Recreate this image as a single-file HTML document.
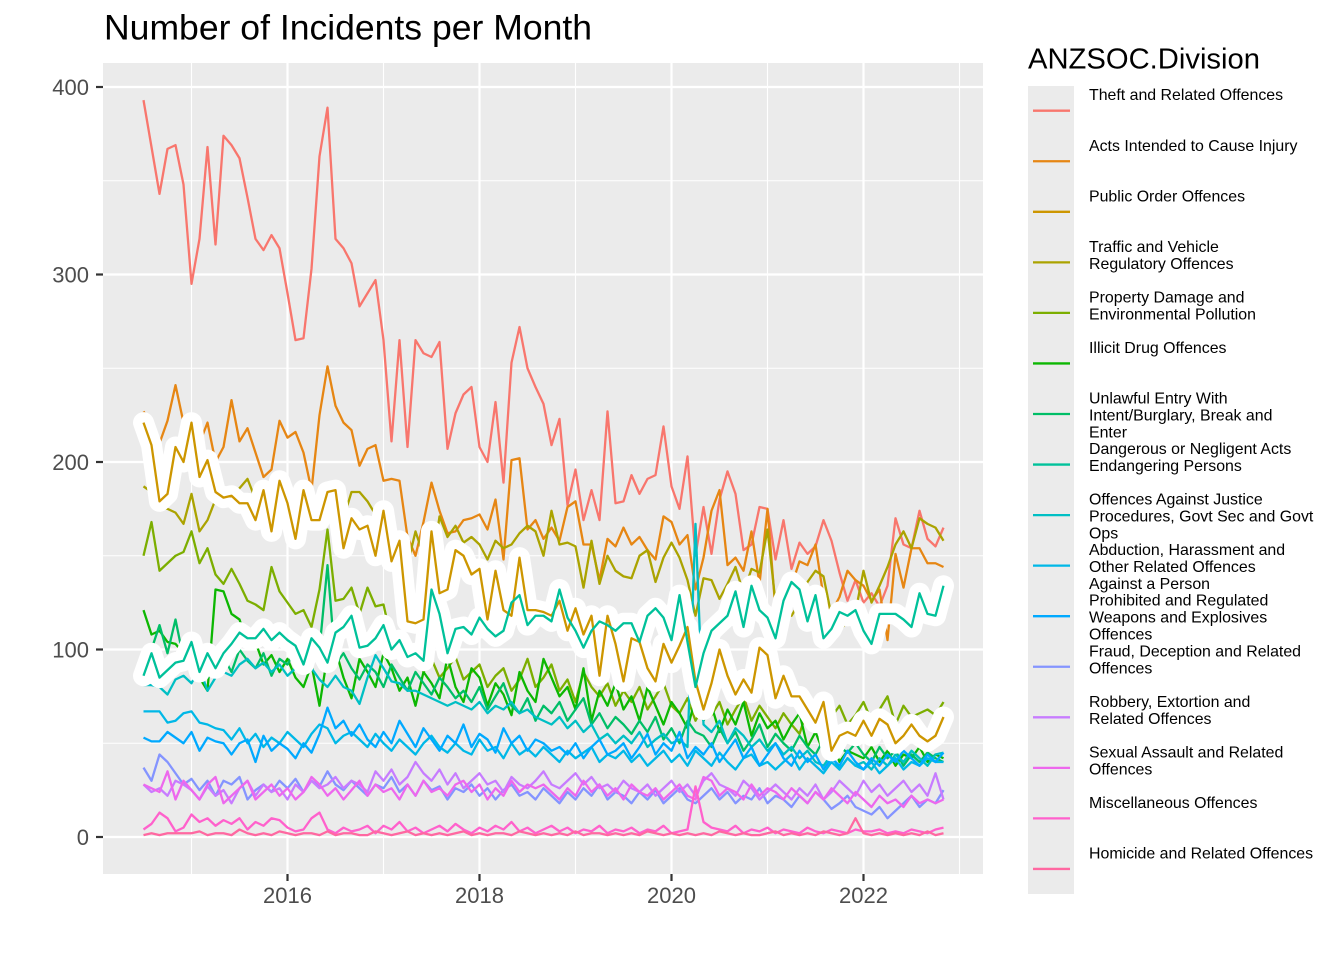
<!DOCTYPE html>
<html>
<head>
<meta charset="utf-8">
<style>
html,body{margin:0;padding:0;background:#ffffff;}
svg{display:block;}
text{font-family:"Liberation Sans", Arial, sans-serif;}
</style>
</head>
<body>
<svg width="1344" height="960" viewBox="0 0 1344 960" xmlns="http://www.w3.org/2000/svg">
<rect x="0" y="0" width="1344" height="960" fill="#ffffff"/>

<text x="104" y="39.5" font-size="35" fill="#000000" textLength="488" lengthAdjust="spacingAndGlyphs">Number of Incidents per Month</text>

<rect x="103" y="63" width="880" height="811" fill="#EBEBEB"/>

<g stroke="#ffffff" stroke-width="1.1" fill="none">
<line x1="103" x2="983" y1="743.25" y2="743.25"/>
<line x1="103" x2="983" y1="555.75" y2="555.75"/>
<line x1="103" x2="983" y1="368.25" y2="368.25"/>
<line x1="103" x2="983" y1="180.75" y2="180.75"/>
<line y1="63" y2="874" x1="191.5" x2="191.5"/>
<line y1="63" y2="874" x1="383.5" x2="383.5"/>
<line y1="63" y2="874" x1="575.5" x2="575.5"/>
<line y1="63" y2="874" x1="767.5" x2="767.5"/>
<line y1="63" y2="874" x1="959.5" x2="959.5"/>
</g>
<g stroke="#ffffff" stroke-width="2.2" fill="none">
<line x1="103" x2="983" y1="837" y2="837"/>
<line x1="103" x2="983" y1="649.5" y2="649.5"/>
<line x1="103" x2="983" y1="462" y2="462"/>
<line x1="103" x2="983" y1="274.5" y2="274.5"/>
<line x1="103" x2="983" y1="87" y2="87"/>
<line y1="63" y2="874" x1="287.5" x2="287.5"/>
<line y1="63" y2="874" x1="479.5" x2="479.5"/>
<line y1="63" y2="874" x1="671.5" x2="671.5"/>
<line y1="63" y2="874" x1="863.5" x2="863.5"/>
</g>

<g transform="translate(143.5,837) scale(8,-1.875)" fill="none" stroke-linejoin="round">
<polyline vector-effect="non-scaling-stroke" stroke="#F8766D" stroke-width="2.3" points="0,393 1,368 2,343 3,367 4,369 5,348 6,295 7,319 8,368 9,316 10,374 11,369 12,362 13,341 14,319 15,313 16,321 17,314 18,290 19,265 20,266 21,303 22,363 23,389 24,319 25,314 26,306 27,283 28,290 29,297 30,265 31,211 32,265 33,208 34,265 35,258 36,256 37,264 38,207 39,226 40,236 41,240 42,208 43,200 44,232 45,189 46,253 47,272 48,250 49,240 50,231 51,209 52,223 53,177 54,196 55,169 56,185 57,169 58,227 59,178 60,179 61,193 62,183 63,191 64,193 65,219 66,187 67,175 68,203 69,150 70,176 71,151 72,180 73,195 74,183 75,153 76,156 77,176 78,175 79,148 80,169 81,143 82,157 83,151 84,155 85,169 86,158 87,141 88,126 89,137 90,125 91,130 92,123 93,134 94,170 95,156 96,154 97,174 98,159 99,155 100,165"/>
<polyline vector-effect="non-scaling-stroke" stroke="#E68613" stroke-width="2.3" points="0,227 1,220 2,210 3,222 4,241 5,221 6,200 7,210 8,221 9,200 10,208 11,233 12,211 13,218 14,205 15,192 16,196 17,222 18,213 19,216 20,205 21,185 22,225 23,251 24,230 25,221 26,217 27,198 28,207 29,209 30,190 31,191 32,190 33,160 34,150 35,168 36,189 37,174 38,162 39,163 40,169 41,170 42,172 43,164 44,180 45,148 46,201 47,202 48,164 49,169 50,159 51,165 52,158 53,176 54,179 55,156 56,156 57,137 58,159 59,155 60,165 61,156 62,160 63,153 64,148 65,171 66,168 67,156 68,161 69,132 70,149 71,174 72,185 73,145 74,149 75,142 76,163 77,135 78,175 79,121 80,130 81,134 82,147 83,145 84,156 85,128 86,120 87,128 88,142 89,137 90,134 91,126 92,132 93,105 94,151 95,133 96,154 97,154 98,146 99,146 100,144"/>
<polyline vector-effect="non-scaling-stroke" stroke="#ABA300" stroke-width="2.3" points="0,187 1,184 2,176 3,175 4,173 5,167 6,183 7,163 8,169 9,180 10,185 11,182 12,186 13,191 14,180 15,175 16,170 17,178 18,172 19,168 20,176 21,172 22,166 23,174 24,178 25,170 26,184 27,184 28,179 29,172 30,165 31,150 32,160 33,145 34,163 35,150 36,142 37,171 38,160 39,166 40,157 41,160 42,156 43,148 44,158 45,154 46,156 47,162 48,166 49,163 50,150 51,174 52,156 53,157 54,155 55,133 56,158 57,135 58,150 59,142 60,139 61,138 62,150 63,153 64,136 65,149 66,157 67,149 68,137 69,118 70,138 71,137 72,127 73,135 74,144 75,130 76,143 77,141 78,164 79,125 80,120 81,118 82,125 83,136 84,142 85,139 86,118 87,110 88,115 89,120 90,142 91,125 92,134 93,144 94,156 95,163 96,154 97,170 98,167 99,165 100,158"/>
<polyline vector-effect="non-scaling-stroke" stroke="#7CAE00" stroke-width="2.3" points="0,150 1,168 2,142 3,146 4,150 5,152 6,163 7,146 8,154 9,140 10,135 11,143 12,135 13,126 14,124 15,121 16,144 17,131 18,125 19,119 20,121 21,112 22,132 23,164 24,126 25,127 26,133 27,119 28,133 29,123 30,124 31,105 32,98 33,92 34,100 35,88 36,95 37,85 38,90 39,96 40,84 41,88 42,92 43,80 44,86 45,90 46,78 47,84 48,95 49,80 50,85 51,92 52,78 53,84 54,72 55,88 56,80 57,75 58,82 59,70 60,78 61,72 62,80 63,68 64,75 65,82 66,70 67,66 68,74 69,62 70,70 71,65 72,72 73,60 74,68 75,75 76,62 77,70 78,64 79,58 80,66 81,60 82,55 83,68 84,62 85,58 86,64 87,70 88,60 89,65 90,72 91,62 92,68 93,75 94,60 95,70 96,64 97,66 98,68 99,65 100,72"/>
<polyline vector-effect="non-scaling-stroke" stroke="#0CB702" stroke-width="2.3" points="0,121 1,108 2,110 3,104 4,103 5,98 6,100 7,85 8,78 9,132 10,131 11,119 12,116 13,103 14,104 15,92 16,97 17,88 18,95 19,85 20,80 21,92 22,70 23,97 24,100 25,85 26,74 27,95 28,88 29,80 30,98 31,90 32,78 33,85 34,70 35,88 36,82 37,74 38,96 39,80 40,72 41,90 42,85 43,70 44,82 45,76 46,65 47,88 48,78 49,72 50,95 51,85 52,75 53,80 54,68 55,90 56,62 57,78 58,70 59,82 60,68 61,75 62,62 63,80 64,70 65,60 66,72 67,66 68,58 69,74 70,62 71,70 72,56 73,68 74,60 75,72 76,54 77,66 78,58 79,62 80,52 81,60 82,66 83,48 84,56 85,45 86,52 87,40 88,46 89,44 90,42 91,48 92,40 93,46 94,38 95,44 96,42 97,48 98,40 99,44 100,42"/>
<polyline vector-effect="non-scaling-stroke" stroke="#00BE67" stroke-width="2.3" points="0,92 1,100 2,113 3,98 4,116 5,95 6,104 7,90 8,85 9,92 10,96 11,88 12,100 13,94 14,90 15,98 16,86 17,95 18,92 19,100 20,88 21,95 22,100 23,145 24,92 25,98 26,90 27,84 28,92 29,88 30,80 31,92 32,85 33,78 34,88 35,82 36,76 37,85 38,80 39,74 40,78 41,72 42,80 43,68 44,75 45,82 46,70 47,66 48,74 49,62 50,70 51,66 52,72 53,62 54,68 55,74 56,60 57,66 58,58 59,64 60,60 61,55 62,62 63,56 64,64 65,52 66,58 67,50 68,62 69,56 70,54 71,48 72,58 73,50 74,56 75,46 76,52 77,60 78,48 79,55 80,50 81,46 82,54 83,48 84,44 85,52 86,42 87,48 88,45 89,50 90,44 91,40 92,48 93,42 94,46 95,38 96,44 97,40 98,45 99,42 100,40"/>
<polyline vector-effect="non-scaling-stroke" stroke="#00BFC4" stroke-width="2.3" points="0,81 1,81 2,80 3,76 4,84 5,86 6,82 7,90 8,78 9,85 10,88 11,86 12,92 13,95 14,90 15,93 16,88 17,92 18,86 19,90 20,94 21,90 22,84 23,80 24,86 25,80 26,78 27,71 28,85 29,97 30,90 31,83 32,82 33,78 34,78 35,76 36,74 37,72 38,70 39,72 40,70 41,68 42,72 43,66 44,70 45,68 46,72 47,66 48,68 49,64 50,62 51,60 52,64 53,58 54,62 55,56 56,60 57,52 58,55 59,50 60,54 61,50 62,56 63,48 64,52 65,55 66,50 67,52 68,48 69,167 70,60 71,56 72,62 73,50 74,58 75,54 76,48 77,52 78,46 79,50 80,44 81,48 82,42 83,46 84,40 85,38 86,44 87,36 88,42 89,38 90,40 91,36 92,42 93,38 94,44 95,40 96,46 97,42 98,38 99,44 100,45"/>
<polyline vector-effect="non-scaling-stroke" stroke="#00B8E7" stroke-width="2.3" points="0,67 1,67 2,67 3,61 4,62 5,66 6,67 7,61 8,60 9,58 10,57 11,52 12,58 13,50 14,55 15,48 16,53 17,50 18,56 19,52 20,48 21,55 22,60 23,58 24,50 25,54 26,56 27,52 28,48 29,55 30,50 31,46 32,52 33,48 34,44 35,50 36,54 37,48 38,45 39,50 40,46 41,44 42,52 43,46 44,48 45,42 46,50 47,44 48,47 49,43 50,48 51,44 52,40 53,46 54,42 55,45 56,48 57,40 58,44 59,42 60,46 61,40 62,44 63,38 64,42 65,46 66,40 67,44 68,38 69,46 70,42 71,38 72,45 73,40 74,36 75,42 76,44 77,38 78,40 79,36 80,40 81,44 82,36 83,42 84,38 85,34 86,40 87,36 88,42 89,38 90,36 91,40 92,34 93,38 94,42 95,36 96,40 97,38 98,42 99,40 100,40"/>
<polyline vector-effect="non-scaling-stroke" stroke="#00A9FF" stroke-width="2.3" points="0,53 1,51 2,51 3,56 4,53 5,50 6,56 7,46 8,53 9,51 10,50 11,44 12,50 13,52 14,40 15,54 16,46 17,50 18,47 19,42 20,50 21,45 22,55 23,69 24,58 25,62 26,54 27,60 28,52 29,48 30,56 31,50 32,62 33,55 34,48 35,58 36,52 37,46 38,54 39,50 40,60 41,48 42,55 43,52 44,45 45,58 46,50 47,54 48,46 49,52 50,50 51,46 52,48 53,44 54,50 55,42 56,48 57,52 58,44 59,46 60,50 61,42 62,48 63,55 64,44 65,50 66,46 67,56 68,42 69,48 70,44 71,50 72,40 73,46 74,52 75,42 76,48 77,38 78,44 79,50 80,42 81,38 82,46 83,40 84,44 85,36 86,42 87,38 88,46 89,40 90,36 91,42 92,38 93,44 94,40 95,46 96,42 97,38 98,44 99,40 100,45"/>
<polyline vector-effect="non-scaling-stroke" stroke="#8494FF" stroke-width="2.3" points="0,37 1,30 2,44 3,40 4,34 5,28 6,31 7,25 8,30 9,22 10,30 11,28 12,32 13,20 14,25 15,28 16,24 17,30 18,26 19,31 20,24 21,30 22,27 23,35 24,28 25,25 26,30 27,26 28,22 29,28 30,26 31,32 32,24 33,28 34,22 35,30 36,25 37,27 38,20 39,26 40,24 41,28 42,22 43,26 44,20 45,25 46,28 47,22 48,24 49,20 50,26 51,22 52,18 53,24 54,20 55,26 56,22 57,28 58,20 59,24 60,22 61,18 62,24 63,20 64,25 65,18 66,22 67,26 68,20 69,18 70,22 71,26 72,20 73,24 74,18 75,22 76,20 77,26 78,18 79,22 80,20 81,16 82,22 83,18 84,24 85,20 86,15 87,18 88,22 89,16 90,14 91,12 92,16 93,10 94,14 95,18 96,22 97,16 98,20 99,18 100,25"/>
<polyline vector-effect="non-scaling-stroke" stroke="#C77CFF" stroke-width="2.3" points="0,28 1,24 2,26 3,22 4,30 5,28 6,25 7,20 8,27 9,22 10,25 11,18 12,26 13,30 14,22 15,28 16,24 17,26 18,20 19,28 20,24 21,30 22,26 23,28 24,32 25,26 26,30 27,28 28,24 29,35 30,30 31,36 32,28 33,32 34,40 35,34 36,30 37,36 38,28 39,34 40,26 41,30 42,34 43,28 44,30 45,24 46,32 47,28 48,26 49,30 50,35 51,28 52,26 53,30 54,34 55,28 56,32 57,26 58,28 59,24 60,30 61,26 62,24 63,28 64,22 65,26 66,30 67,24 68,28 69,22 70,30 71,34 72,28 73,26 74,22 75,30 76,26 77,20 78,24 79,28 80,24 81,20 82,26 83,22 84,28 85,20 86,24 87,30 88,26 89,22 90,30 91,24 92,28 93,22 94,26 95,30 96,24 97,28 98,22 99,34 100,20"/>
<polyline vector-effect="non-scaling-stroke" stroke="#ED68ED" stroke-width="2.3" points="0,28 1,26 2,24 3,35 4,20 5,30 6,25 7,20 8,28 9,32 10,18 11,22 12,26 13,30 14,20 15,24 16,28 17,22 18,26 19,20 20,24 21,32 22,28 23,22 24,26 25,20 26,25 27,30 28,22 29,28 30,24 31,26 32,20 33,28 34,22 35,30 36,24 37,26 38,22 39,28 40,30 41,24 42,28 43,20 44,26 45,22 46,30 47,24 48,28 49,26 50,28 51,24 52,20 53,26 54,22 55,30 56,24 57,28 58,22 59,26 60,20 61,28 62,24 63,22 64,26 65,20 66,24 67,28 68,22 69,20 70,32 71,30 72,22 73,26 74,24 75,20 76,28 77,22 78,26 79,24 80,20 81,26 82,22 83,18 84,24 85,20 86,26 87,22 88,18 89,24 90,20 91,16 92,22 93,18 94,20 95,16 96,22 97,18 98,20 99,18 100,20"/>
<polyline vector-effect="non-scaling-stroke" stroke="#FF61CC" stroke-width="2.3" points="0,4 1,7 2,13 3,10 4,3 5,5 6,12 7,8 8,10 9,6 10,9 11,7 12,10 13,4 14,8 15,6 16,10 17,9 18,5 19,3 20,4 21,10 22,13 23,4 24,2 25,5 26,3 27,4 28,6 29,2 30,6 31,4 32,8 33,3 34,5 35,2 36,4 37,6 38,3 39,7 40,4 41,2 42,5 43,3 44,6 45,4 46,8 47,3 48,5 49,2 50,4 51,6 52,3 53,5 54,2 55,4 56,3 57,6 58,2 59,4 60,3 61,5 62,2 63,4 64,3 65,6 66,2 67,3 68,4 69,27 70,8 71,5 72,4 73,3 74,6 75,2 76,4 77,3 78,5 79,2 80,4 81,3 82,2 83,5 84,3 85,2 86,4 87,3 88,2 89,4 90,3 91,3 92,4 93,2 94,3 95,2 96,4 97,3 98,2 99,4 100,5"/>
<polyline vector-effect="non-scaling-stroke" stroke="#FF68A1" stroke-width="2.3" points="0,1 1,2 2,1 3,2 4,2 5,2 6,2 7,3 8,1 9,2 10,2 11,1 12,4 13,2 14,1 15,2 16,1 17,3 18,2 19,1 20,2 21,2 22,1 23,3 24,1 25,2 26,2 27,1 28,1 29,3 30,2 31,1 32,2 33,3 34,1 35,2 36,1 37,2 38,1 39,2 40,3 41,1 42,2 43,1 44,2 45,2 46,1 47,3 48,2 49,1 50,2 51,1 52,2 53,1 54,3 55,1 56,2 57,2 58,1 59,2 60,1 61,2 62,1 63,3 64,2 65,1 66,2 67,1 68,2 69,1 70,2 71,1 72,3 73,2 74,1 75,2 76,1 77,1 78,2 79,3 80,1 81,2 82,1 83,2 84,1 85,3 86,2 87,1 88,2 89,10 90,2 91,1 92,2 93,1 94,2 95,1 96,2 97,1 98,3 99,1 100,2"/>

<polyline vector-effect="non-scaling-stroke" stroke="#ffffff" stroke-width="21" stroke-linecap="round" points="0,221 1,209 2,179 3,183 4,208 5,200 6,221 7,192 8,201 9,184 10,181 11,182 12,178 13,178 14,169 15,185 16,163 17,190 18,178 19,159 20,185 21,169 22,169 23,184 24,185 25,154 26,170 27,164 28,166 29,150 30,174 31,147 32,158 33,115 34,114 35,116 36,163 37,130 38,132 39,153 40,150 41,140 42,143 43,116 44,142 45,121 46,118 47,149 48,121 49,121 50,120 51,118 52,126 53,110 54,122 55,108 56,118 57,86 58,118 59,103 60,83 61,106 62,104 63,90 64,83 65,103 66,93 67,102 68,112 69,83 70,68 71,82 72,100 73,86 74,76 75,84 76,77 77,101 78,97 79,74 80,86 81,75 82,75 83,68 84,61 85,72 86,46 87,54 88,56 89,54 90,62 91,54 92,63 93,60 94,50 95,54 96,60 97,54 98,51 99,54 100,64"/>
<polyline vector-effect="non-scaling-stroke" stroke="#ffffff" stroke-width="21" stroke-linecap="round" points="0,86 1,98 2,85 3,89 4,93 5,94 6,104 7,88 8,98 9,90 10,98 11,103 12,109 13,106 14,106 15,111 16,105 17,109 18,105 19,102 20,92 21,106 22,101 23,93 24,109 25,112 26,118 27,101 28,102 29,106 30,113 31,100 32,105 33,96 34,98 35,94 36,132 37,119 38,98 39,111 40,112 41,108 42,117 43,111 44,107 45,110 46,125 47,129 48,113 49,118 50,118 51,115 52,132 53,117 54,110 55,101 56,110 57,115 58,113 59,110 60,114 61,114 62,104 63,118 64,122 65,117 66,105 67,129 68,104 69,80 70,98 71,110 72,114 73,118 74,131 75,112 76,134 77,121 78,117 79,106 80,126 81,136 82,132 83,115 84,129 85,106 86,111 87,120 88,118 89,121 90,110 91,103 92,119 93,119 94,119 95,116 96,112 97,130 98,119 99,118 100,134"/>

<polyline vector-effect="non-scaling-stroke" stroke="#CD9600" stroke-width="2.3" points="0,221 1,209 2,179 3,183 4,208 5,200 6,221 7,192 8,201 9,184 10,181 11,182 12,178 13,178 14,169 15,185 16,163 17,190 18,178 19,159 20,185 21,169 22,169 23,184 24,185 25,154 26,170 27,164 28,166 29,150 30,174 31,147 32,158 33,115 34,114 35,116 36,163 37,130 38,132 39,153 40,150 41,140 42,143 43,116 44,142 45,121 46,118 47,149 48,121 49,121 50,120 51,118 52,126 53,110 54,122 55,108 56,118 57,86 58,118 59,103 60,83 61,106 62,104 63,90 64,83 65,103 66,93 67,102 68,112 69,83 70,68 71,82 72,100 73,86 74,76 75,84 76,77 77,101 78,97 79,74 80,86 81,75 82,75 83,68 84,61 85,72 86,46 87,54 88,56 89,54 90,62 91,54 92,63 93,60 94,50 95,54 96,60 97,54 98,51 99,54 100,64"/>
<polyline vector-effect="non-scaling-stroke" stroke="#00C19A" stroke-width="2.3" points="0,86 1,98 2,85 3,89 4,93 5,94 6,104 7,88 8,98 9,90 10,98 11,103 12,109 13,106 14,106 15,111 16,105 17,109 18,105 19,102 20,92 21,106 22,101 23,93 24,109 25,112 26,118 27,101 28,102 29,106 30,113 31,100 32,105 33,96 34,98 35,94 36,132 37,119 38,98 39,111 40,112 41,108 42,117 43,111 44,107 45,110 46,125 47,129 48,113 49,118 50,118 51,115 52,132 53,117 54,110 55,101 56,110 57,115 58,113 59,110 60,114 61,114 62,104 63,118 64,122 65,117 66,105 67,129 68,104 69,80 70,98 71,110 72,114 73,118 74,131 75,112 76,134 77,121 78,117 79,106 80,126 81,136 82,132 83,115 84,129 85,106 86,111 87,120 88,118 89,121 90,110 91,103 92,119 93,119 94,119 95,116 96,112 97,130 98,119 99,118 100,134"/>
</g>

<g stroke="#333333" stroke-width="2.2">
<line x1="96" x2="103" y1="837" y2="837"/>
<line x1="96" x2="103" y1="649.5" y2="649.5"/>
<line x1="96" x2="103" y1="462" y2="462"/>
<line x1="96" x2="103" y1="274.5" y2="274.5"/>
<line x1="96" x2="103" y1="87" y2="87"/>
<line y1="874" y2="881" x1="287.5" x2="287.5"/>
<line y1="874" y2="881" x1="479.5" x2="479.5"/>
<line y1="874" y2="881" x1="671.5" x2="671.5"/>
<line y1="874" y2="881" x1="863.5" x2="863.5"/>
</g>

<g font-size="22" fill="#4D4D4D">
<text x="89" y="845" text-anchor="end">0</text>
<text x="89" y="657.5" text-anchor="end">100</text>
<text x="89" y="470" text-anchor="end">200</text>
<text x="89" y="282.5" text-anchor="end">300</text>
<text x="89" y="95" text-anchor="end">400</text>
<text x="287.5" y="903" text-anchor="middle">2016</text>
<text x="479.5" y="903" text-anchor="middle">2018</text>
<text x="671.5" y="903" text-anchor="middle">2020</text>
<text x="863.5" y="903" text-anchor="middle">2022</text>
</g>

<text x="1028" y="68.3" font-size="29" fill="#000000" textLength="232" lengthAdjust="spacingAndGlyphs">ANZSOC.Division</text>
<rect x="1028" y="86" width="46" height="808" fill="#EBEBEB"/>
<g stroke-width="2.3">
<line x1="1033" x2="1070" y1="110.7" y2="110.7" stroke="#F8766D"/>
<line x1="1033" x2="1070" y1="161.25" y2="161.25" stroke="#E68613"/>
<line x1="1033" x2="1070" y1="211.8" y2="211.8" stroke="#CD9600"/>
<line x1="1033" x2="1070" y1="262.35" y2="262.35" stroke="#ABA300"/>
<line x1="1033" x2="1070" y1="312.9" y2="312.9" stroke="#7CAE00"/>
<line x1="1033" x2="1070" y1="363.45" y2="363.45" stroke="#0CB702"/>
<line x1="1033" x2="1070" y1="414" y2="414" stroke="#00BE67"/>
<line x1="1033" x2="1070" y1="464.55" y2="464.55" stroke="#00C19A"/>
<line x1="1033" x2="1070" y1="515.1" y2="515.1" stroke="#00BFC4"/>
<line x1="1033" x2="1070" y1="565.65" y2="565.65" stroke="#00B8E7"/>
<line x1="1033" x2="1070" y1="616.2" y2="616.2" stroke="#00A9FF"/>
<line x1="1033" x2="1070" y1="666.75" y2="666.75" stroke="#8494FF"/>
<line x1="1033" x2="1070" y1="717.3" y2="717.3" stroke="#C77CFF"/>
<line x1="1033" x2="1070" y1="767.85" y2="767.85" stroke="#ED68ED"/>
<line x1="1033" x2="1070" y1="818.4" y2="818.4" stroke="#FF61CC"/>
<line x1="1033" x2="1070" y1="868.95" y2="868.95" stroke="#FF68A1"/>
</g>
<g font-size="15.9" fill="#000000">
<text x="1089" y="100.2">Theft and Related Offences</text>
<text x="1089" y="150.75">Acts Intended to Cause Injury</text>
<text x="1089" y="201.3">Public Order Offences</text>
<text x="1089" y="251.85">Traffic and Vehicle<tspan x="1089" dy="17">Regulatory Offences</tspan></text>
<text x="1089" y="302.4">Property Damage and<tspan x="1089" dy="17">Environmental Pollution</tspan></text>
<text x="1089" y="352.95">Illicit Drug Offences</text>
<text x="1089" y="403.5">Unlawful Entry With<tspan x="1089" dy="17">Intent/Burglary, Break and</tspan><tspan x="1089" dy="17">Enter</tspan></text>
<text x="1089" y="454.05">Dangerous or Negligent Acts<tspan x="1089" dy="17">Endangering Persons</tspan></text>
<text x="1089" y="504.6">Offences Against Justice<tspan x="1089" dy="17">Procedures, Govt Sec and Govt</tspan><tspan x="1089" dy="17">Ops</tspan></text>
<text x="1089" y="555.15">Abduction, Harassment and<tspan x="1089" dy="17">Other Related Offences</tspan><tspan x="1089" dy="17">Against a Person</tspan></text>
<text x="1089" y="605.7">Prohibited and Regulated<tspan x="1089" dy="17">Weapons and Explosives</tspan><tspan x="1089" dy="17">Offences</tspan></text>
<text x="1089" y="656.25">Fraud, Deception and Related<tspan x="1089" dy="17">Offences</tspan></text>
<text x="1089" y="706.8">Robbery, Extortion and<tspan x="1089" dy="17">Related Offences</tspan></text>
<text x="1089" y="757.35">Sexual Assault and Related<tspan x="1089" dy="17">Offences</tspan></text>
<text x="1089" y="807.9">Miscellaneous Offences</text>
<text x="1089" y="858.45">Homicide and Related Offences</text>
</g>
</svg>
</body>
</html>
